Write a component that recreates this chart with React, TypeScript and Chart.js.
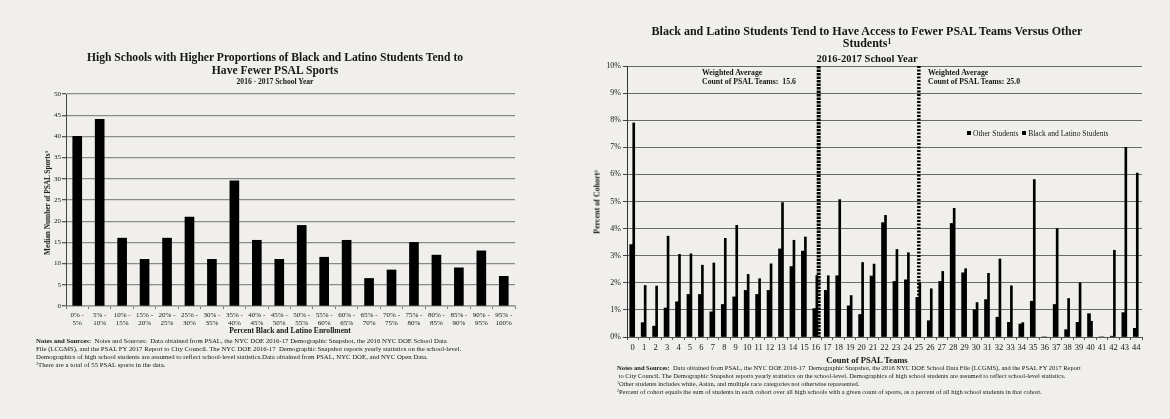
import React, { useEffect, useRef } from "react";
import { Chart, registerables } from "chart.js";

Chart.register(...registerables);

const FONT = "'Liberation Serif', 'Times New Roman', serif";
const INK = "#161616";
const BG = "#f0efeb";

// ---------- Left chart data ----------
const enrollmentBins: string[][] = [
  ["0% -", "5%"], ["5% -", "10%"], ["10% -", "15%"], ["15% -", "20%"], ["20% -", "25%"],
  ["25% -", "30%"], ["30% -", "35%"], ["35% -", "40%"], ["40% -", "45%"], ["45% -", "50%"],
  ["50% -", "55%"], ["55% -", "60%"], ["60% -", "65%"], ["65% -", "70%"], ["70% -", "75%"],
  ["75% -", "80%"], ["80% -", "85%"], ["85% -", "90%"], ["90% -", "95%"], ["95% -", "100%"],
];
const medianSports = [40, 44, 16, 11, 16, 21, 11, 29.5, 15.5, 11, 19, 11.5, 15.5, 6.5, 8.5, 15, 12, 9, 13, 7];
const sportsAxisMax = 50;
const sportsAxisStep = 5;

// ---------- Right chart data ----------
const teamCounts = [
  "0", "1", "2", "3", "4", "5", "6", "7", "8", "9",
  "10", "11", "12", "13", "14", "15", "16", "17", "18", "19",
  "20", "21", "22", "23", "24", "25", "26", "27", "28", "29",
  "30", "31", "32", "33", "34", "35", "36", "37", "38", "39",
  "40", "41", "42", "43", "44",
];
const otherStudentsPct = [
  7.9, 1.9, 1.88, 3.72, 3.05, 3.07, 2.65, 2.73, 3.64, 4.12,
  2.31, 2.15, 2.7, 4.96, 3.57, 3.69, 2.27, 2.26, 5.07, 1.53,
  2.75, 2.69, 4.49, 3.23, 3.11, 2.0, 1.78, 2.42, 4.75, 2.52,
  1.27, 2.35, 2.88, 1.89, 0.53, 5.81, 0, 4.0, 1.42, 2.0,
  0.58, 0, 3.2, 7.0, 6.05,
];
const blackLatinoPct = [
  3.41, 0.53, 0.4, 1.07, 1.3, 1.57, 1.57, 0.93, 1.2, 1.48,
  1.72, 1.57, 1.72, 3.25, 2.6, 3.17, 1.05, 1.72, 2.26, 1.15,
  0.83, 2.25, 4.22, 2.05, 2.11, 1.46, 0.6, 2.05, 4.19, 2.37,
  1.0, 1.38, 0.73, 0.54, 0.48, 1.32, 0, 1.2, 0.27, 0.54,
  0.86, 0, 0.03, 0.9, 0.32,
];
const cohortAxisMax = 10;
const cohortAxisStep = 1;
const weightedAverages = [15.6, 25.0];
// category-axis position where each weighted-average marker line sits
const weightedAverageMarkers = [16.25, 25];

const avgLinesPlugin = {
  id: "avgLines",
  afterDatasetsDraw(chart: any) {
    const { ctx, chartArea, scales } = chart;
    const x = scales.x;
    weightedAverageMarkers.forEach((pos, i) => {
      const base = Math.floor(pos);
      const frac = pos - base;
      const p0 = x.getPixelForValue(base);
      const p1 = x.getPixelForValue(base + 1);
      const px = p0 + frac * (p1 - p0);
      ctx.save();
      ctx.strokeStyle = "#000";
      ctx.lineWidth = i === 0 ? 4 : 3.5;
      ctx.setLineDash(i === 0 ? [2.5, 1] : [2, 1.5]);
      ctx.beginPath();
      ctx.moveTo(px, chartArea.top);
      ctx.lineTo(px, chartArea.bottom);
      ctx.stroke();
      ctx.restore();
    });
  },
};

const Sup = ({ children }: { children: React.ReactNode }) => (
  <span style={{ fontSize: "0.62em", position: "relative", top: "-0.45em" }}>{children}</span>
);

type TP = {
  x: number;
  y: number;
  size: number;
  bold?: boolean;
  align?: "left" | "center";
  rotate?: boolean;
  children: React.ReactNode;
};
function Txt({ x, y, size, bold, align = "left", rotate, children }: TP) {
  const lh = Math.round(size * 1.25);
  const style: React.CSSProperties = {
    position: "absolute",
    left: x,
    top: y,
    fontSize: size,
    lineHeight: lh + "px",
    fontWeight: bold ? 700 : 400,
    whiteSpace: "pre",
    pointerEvents: "none",
    transform: rotate
      ? "translate(-50%,-50%) rotate(-90deg)"
      : align === "center"
      ? "translate(-50%,-50%)"
      : "translateY(-50%)",
  };
  return <div style={style}>{children}</div>;
}

const Square = () => (
  <span style={{ display: "inline-block", width: 4, height: 4, background: "#000", marginRight: 2, verticalAlign: "middle", position: "relative", top: -1 }} />
);

export default function App() {
  const leftRef = useRef<HTMLCanvasElement | null>(null);
  const rightRef = useRef<HTMLCanvasElement | null>(null);

  useEffect(() => {
    document.body.style.margin = "0";
    document.body.style.background = BG;
    const c1 = new Chart(leftRef.current as HTMLCanvasElement, {
      type: "bar",
      data: {
        labels: enrollmentBins as any,
        datasets: [
          {
            label: "Median Number of PSAL Sports",
            data: medianSports,
            backgroundColor: "#000",
            borderWidth: 0,
            barThickness: 9,
          },
        ],
      },
      options: {
        animation: false,
        responsive: false,
        devicePixelRatio: 1,
        layout: { padding: { left: 0, top: 94, right: 65, bottom: 0 } },
        plugins: { legend: { display: false }, tooltip: { enabled: false }, title: { display: false } },
        scales: {
          x: {
            grid: { display: true, drawOnChartArea: false, drawTicks: true, tickLength: 3, tickColor: "#777", offset: true },
            border: { color: "#9a9a9a", width: 1.5 },
            ticks: {
              font: { family: FONT, size: 7, lineHeight: 1.15 },
              color: INK,
              padding: 2,
              autoSkip: false,
              maxRotation: 0,
              minRotation: 0,
            },
            afterFit: (s: any) => {
              s.height = 113;
            },
          },
          y: {
            min: 0,
            max: sportsAxisMax,
            ticks: { stepSize: sportsAxisStep, font: { family: FONT, size: 7 }, color: INK, padding: 1 },
            grid: { color: "#8a8a8a", lineWidth: 1.3, tickLength: 4, tickColor: "#555" },
            border: { color: "#444", width: 1 },
            afterFit: (s: any) => {
              s.width = 66;
            },
          },
        },
      } as any,
    });

    const c2 = new Chart(rightRef.current as HTMLCanvasElement, {
      type: "bar",
      data: {
        labels: teamCounts,
        datasets: [
          { label: "Black and Latino Students", data: blackLatinoPct, backgroundColor: "#000", borderWidth: 0, barThickness: 3 },
          { label: "Other Students", data: otherStudentsPct, backgroundColor: "#000", borderWidth: 0, barThickness: 2 },
        ],
      },
      options: {
        animation: false,
        responsive: false,
        devicePixelRatio: 1,
        layout: { padding: { left: 0, top: 66, right: 28, bottom: 0 } },
        plugins: { legend: { display: false }, tooltip: { enabled: false }, title: { display: false } },
        scales: {
          x: {
            grid: { display: true, drawOnChartArea: false, drawTicks: true, tickLength: 3, tickColor: "#555", offset: true },
            border: { color: "#555", width: 1 },
            ticks: {
              font: { family: FONT, size: 8.5 },
              color: INK,
              padding: 3,
              autoSkip: false,
              maxRotation: 0,
              minRotation: 0,
            },
            afterFit: (s: any) => {
              s.height = 82;
            },
          },
          y: {
            min: 0,
            max: cohortAxisMax,
            ticks: {
              stepSize: cohortAxisStep,
              font: { family: FONT, size: 8 },
              color: INK,
              padding: 2,
              callback: (v: any) => v + "%",
            },
            grid: { color: "#6a6a6a", lineWidth: 1, tickLength: 4, tickColor: "#444" },
            border: { color: "#333", width: 1 },
            afterFit: (s: any) => {
              s.width = 47;
            },
          },
        },
      } as any,
      plugins: [avgLinesPlugin],
    });

    return () => {
      c1.destroy();
      c2.destroy();
    };
  }, []);

  return (
    <div
      style={{
        position: "fixed",
        left: 0,
        top: 0,
        width: 1170,
        height: 419,
        background: BG,
        overflow: "hidden",
        fontFamily: FONT,
        color: INK,
      }}
    >
      <canvas ref={leftRef} width={580} height={419} style={{ position: "absolute", left: 0, top: 0, width: 580, height: 419 }} />
      <canvas ref={rightRef} width={590} height={419} style={{ position: "absolute", left: 580, top: 0, width: 590, height: 419 }} />

      {/* Left chart texts */}
      <Txt x={275} y={57} size={11.6} bold align="center">
        High Schools with Higher Proportions of Black and Latino Students Tend to
      </Txt>
      <Txt x={275} y={70} size={11.6} bold align="center">
        Have Fewer PSAL Sports
      </Txt>
      <Txt x={275} y={82} size={7.6} bold align="center">
        2016 - 2017 School Year
      </Txt>
      <Txt x={48} y={203} size={7.3} bold rotate>
        Median Number of PSAL Sports<Sup>3</Sup>
      </Txt>
      <Txt x={290} y={331} size={7.6} bold align="center">
        Percent Black and Latino Enrollment
      </Txt>
      <Txt x={36} y={341} size={6.78}>
        <b>Notes and Sources:</b>{"  Notes and Sources:  Data obtained from PSAL, the NYC DOE 2016-17 Demographic Snapshot, the 2016 NYC DOE School Data"}
      </Txt>
      <Txt x={36} y={349} size={6.78}>
        {"File (LCGMS), and the PSAL FY 2017 Report to City Council. The NYC DOE 2016-17  Demographic Snapshot reports yearly statistics on the school-level."}
      </Txt>
      <Txt x={36} y={357} size={6.78}>
        {"Demographics of high school students are assumed to reflect school-level statistics.Data obtained from PSAL, NYC DOE, and NYC Open Data."}
      </Txt>
      <Txt x={36} y={365} size={6.78}>
        <Sup>3</Sup>
        {"There are a total of 55 PSAL sports in the data."}
      </Txt>

      {/* Right chart texts */}
      <Txt x={867} y={31} size={12} bold align="center">
        Black and Latino Students Tend to Have Access to Fewer PSAL Teams Versus Other
      </Txt>
      <Txt x={867} y={44} size={12} bold align="center">
        Students<Sup>1</Sup>
      </Txt>
      <Txt x={867} y={58} size={10.5} bold align="center">
        2016-2017 School Year
      </Txt>
      <Txt x={702} y={73} size={7.8} bold>
        Weighted Average
      </Txt>
      <Txt x={702} y={82} size={7.8} bold>
        {"Count of PSAL Teams:  " + weightedAverages[0].toFixed(1)}
      </Txt>
      <Txt x={928} y={73} size={7.8} bold>
        Weighted Average
      </Txt>
      <Txt x={928} y={82} size={7.8} bold>
        {"Count of PSAL Teams: " + weightedAverages[1].toFixed(1)}
      </Txt>
      <Txt x={967} y={134} size={7.6}>
        <Square />
        {"Other Students  "}
        <Square />
        {"Black and Latino Students"}
      </Txt>
      <Txt x={598} y={202} size={8} bold rotate>
        Percent of Cohort<Sup>2</Sup>
      </Txt>
      <Txt x={867} y={360} size={8.6} bold align="center">
        Count of PSAL Teams
      </Txt>
      <Txt x={617} y={368} size={6.47}>
        <b>Notes and Sources:</b>{"  Data obtained from PSAL, the NYC DOE 2016-17  Demographic Snapshot, the 2016 NYC DOE School Data File (LCGMS), and the PSAL FY 2017 Report"}
      </Txt>
      <Txt x={617} y={376} size={6.47}>
        {" to City Council. The Demographic Snapshot reports yearly statistics on the school-level. Demographics of high school students are assumed to reflect school-level statistics."}
      </Txt>
      <Txt x={617} y={384} size={6.47}>
        <Sup>1</Sup>
        {"Other students includes white, Asian, and multiple race categories not otherwise represented."}
      </Txt>
      <Txt x={617} y={392} size={6.47}>
        <Sup>2</Sup>
        {"Percent of cohort equals the sum of students in each cohort over all high schools with a given count of sports, as a percent of all high school students in that cohort."}
      </Txt>
    </div>
  );
}
